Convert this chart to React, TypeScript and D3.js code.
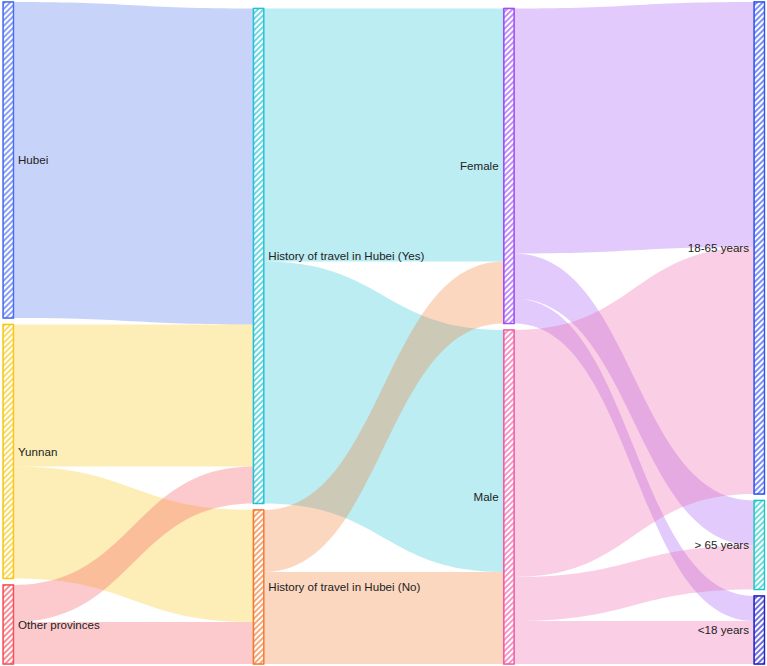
import React, { useMemo } from 'react';
import * as d3 from 'd3';

// nodes of the sankey, in column order
const nodeNames = [
  'Hubei',
  'Yunnan',
  'Other provinces',
  'History of travel in Hubei (Yes)',
  'History of travel in Hubei (No)',
  'Female',
  'Male',
  '18-65 years',
  '> 65 years',
  '<18 years',
];
const nodeColumns = [0, 0, 0, 1, 1, 2, 2, 3, 3, 3];

// flows (index into nodeNames)
const linkSources = [0, 1, 1, 2, 2, 3, 3, 4, 4, 5, 5, 5, 6, 6, 6];
const linkTargets = [3, 3, 4, 3, 4, 5, 6, 5, 6, 7, 8, 9, 7, 8, 9];
const linkValues = [316, 142, 112, 37, 42, 253, 242, 62, 92, 245, 45, 25, 247, 44, 43];

const nodeColors = [
  '#4a6cf0', '#f7c814', '#f5505a', '#1ec4d6', '#f47a30',
  '#a050f5', '#f060a8', '#3355ee', '#20c8c8', '#2323c8',
];

const width = 767;
const height = 666;
const top = 2;
const bottom = 664;
const pad = 6.5;
const nodeWidth = 10.5;

const App = () => {
  const layout = useMemo(() => {
    const x = d3.scaleLinear().domain([0, 3]).range([3, 754]);

    const nodes = nodeNames.map((name, i) => ({
      i, name, col: nodeColumns[i], value: 0, x0: 0, x1: 0, y0: 0, y1: 0,
    }));
    const links = linkValues.map((value, k) => ({
      source: nodes[linkSources[k]], target: nodes[linkTargets[k]], value, sy: 0, ty: 0, w: 0,
    }));

    nodes.forEach((n) => {
      const out = d3.sum(links.filter((l) => l.source === n), (l) => l.value);
      const inc = d3.sum(links.filter((l) => l.target === n), (l) => l.value);
      n.value = Math.max(out, inc);
      n.x0 = x(n.col);
      n.x1 = n.x0 + nodeWidth;
    });

    const columns = d3.groups(nodes, (d) => d.col).map((g) => g[1]);
    const maxN = d3.max(columns, (c) => c.length);
    const ky = d3.min(columns, (c) => (bottom - top - (c.length - 1) * pad) / d3.sum(c, (d) => d.value));

    // columns with fewer nodes sit at the bottom
    columns.forEach((c) => {
      let y = top + (maxN - c.length) * pad;
      c.forEach((n) => {
        n.y0 = y;
        n.y1 = y + n.value * ky;
        y = n.y1 + pad;
      });
    });

    links.forEach((l) => (l.w = l.value * ky));
    nodes.forEach((n) => {
      let sy = n.y0;
      links
        .filter((l) => l.source === n)
        .sort((a, b) => a.target.y0 - b.target.y0)
        .forEach((l) => { l.sy = sy; sy += l.w; });
      let ty = n.y0;
      links
        .filter((l) => l.target === n)
        .sort((a, b) => a.source.y0 - b.source.y0)
        .forEach((l) => { l.ty = ty; ty += l.w; });
    });

    return { nodes, links };
  }, []);

  // ribbons keep a constant vertical thickness
  const ribbon = d3.area()
    .x((d) => d[0])
    .y0((d) => d[1])
    .y1((d) => d[2])
    .curve(d3.curveBumpX);

  return (
    <svg width={width} height={height} style={{ position: 'absolute', left: 0, top: 0 }}>
      <defs>
        {nodeColors.map((c, i) => (
          <pattern key={i} id={`hatch${i}`} patternUnits='userSpaceOnUse' width={4} height={4}
            patternTransform='rotate(45)'>
            <rect width={4} height={4} fill='white' />
            <line x1={1} y1={0} x2={1} y2={4} stroke={c} strokeWidth={1.3} />
          </pattern>
        ))}
      </defs>
      <rect width={width} height={height} fill='white' />

      {/* links */}
      <g>
        {layout.links.map((l, k) => (
          <path key={k}
            d={ribbon([
              [l.source.x1, l.sy, l.sy + l.w],
              [l.target.x0, l.ty, l.ty + l.w],
            ])}
            fill={nodeColors[l.source.i]}
            fillOpacity={0.3} />
        ))}
      </g>

      {/* nodes, hatched with a sketchy outline */}
      <g>
        {layout.nodes.map((n) => (
          <g key={n.i}>
            <rect x={n.x0} y={n.y0} width={n.x1 - n.x0} height={n.y1 - n.y0}
              fill={`url(#hatch${n.i})`} stroke={nodeColors[n.i]} strokeWidth={1.4} />
            <rect x={n.x0 + 0.6} y={n.y0 - 0.4} width={n.x1 - n.x0 - 0.8} height={n.y1 - n.y0 + 0.6}
              fill='none' stroke={nodeColors[n.i]} strokeWidth={0.7} strokeOpacity={0.7} />
          </g>
        ))}
      </g>

      {/* labels */}
      <g style={{ fontFamily: '"Liberation Sans", Arial, sans-serif', fontSize: 11.6 }} fill='#222'>
        {layout.nodes.map((n) => {
          const left = n.col >= 2;
          return (
            <text key={n.i}
              x={left ? n.x0 - 5 : n.x1 + 4.5}
              y={(n.y0 + n.y1) / 2}
              dy='0.35em'
              textAnchor={left ? 'end' : 'start'}>
              {n.name}
            </text>
          );
        })}
      </g>
    </svg>
  );
};

export default App;
